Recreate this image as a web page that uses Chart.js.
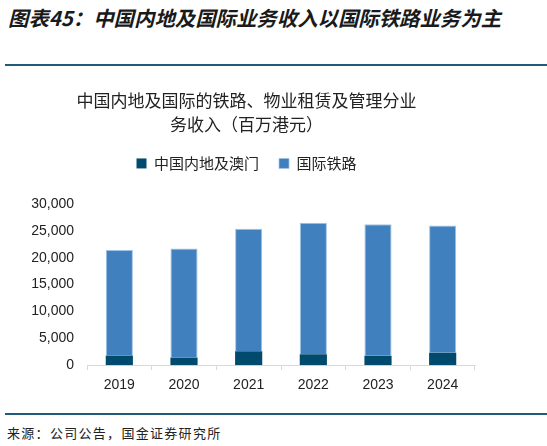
<!DOCTYPE html>
<html>
<head>
<meta charset="utf-8">
<script src="https://cdn.jsdelivr.net/npm/chart.js@4"></script>
<style>
  body { margin: 0; width: 547px; height: 446px; background: #fff; position: relative; overflow: hidden; }
  #head { position: absolute; left: 8px; top: 2px; font: italic bold 20.4px "Noto Sans CJK SC", sans-serif; color: #1a1a1a; white-space: nowrap; }
  .rule { position: absolute; left: 5px; right: 0; height: 2px; background: #1f5a7a; }
  #foot { position: absolute; left: 7px; top: 423px; font: 13px "Noto Sans CJK SC", sans-serif; color: #222; letter-spacing: 1.3px; }
  #wrap { position: absolute; left: 0; top: 80px; width: 547px; height: 321px; }
</style>
</head>
<body>
<div id="head">图表45：中国内地及国际业务收入以国际铁路业务为主</div>
<div class="rule" style="top:64px"></div>
<div id="wrap"><canvas id="chart"></canvas></div>
<div class="rule" style="top:413px"></div>
<div id="foot">来源：公司公告，国金证券研究所</div>
<script>
const years = ["2019", "2020", "2021", "2022", "2023", "2024"];
// 百万港元
const mainland = [1800, 1450, 2600, 2050, 1750, 2300];
const international = [19650, 20250, 22800, 24450, 24450, 23700];
const yTicks = [0, 5000, 10000, 15000, 20000, 25000, 30000];

const cjk = '"Noto Sans CJK SC", sans-serif';
const latin = '"Liberation Sans", Arial, sans-serif';

// extra room between legend and plot
const legendGap = {
  id: "legendGap",
  beforeInit(chart) {
    const fit = chart.legend.fit;
    chart.legend.fit = function () {
      fit.bind(chart.legend)();
      this.height += 23;
    };
  },
};

new Chart(document.getElementById("chart"), {
  type: "bar",
  data: {
    labels: years,
    datasets: [
      {
        label: "中国内地及澳门",
        data: mainland,
        backgroundColor: "#004a6e",
        borderWidth: 0,
      },
      {
        label: "国际铁路",
        data: international,
        backgroundColor: "#4080bf",
        borderColor: "#a3c3e3",
        borderWidth: { top: 1, left: 1, right: 1, bottom: 0 },
      },
    ],
  },
  plugins: [legendGap],
  options: {
    responsive: true,
    maintainAspectRatio: false,
    animation: false,
    datasets: { bar: { barPercentage: 0.42, categoryPercentage: 1 } },
    layout: { padding: { left: 18, right: 72, top: 0, bottom: 0 } },
    plugins: {
      title: {
        display: true,
        text: ["中国内地及国际的铁路、物业租赁及管理分业", "务收入（百万港元）"],
        color: "#222",
        font: { family: cjk, size: 17, weight: "normal", lineHeight: 1.41 },
        padding: { top: 9, bottom: -1 },
      },
      legend: {
        position: "top",
        labels: {
          color: "#222",
          font: { family: cjk, size: 15 },
          boxWidth: 10,
          boxHeight: 10,
          padding: 20,
        },
      },
      tooltip: { enabled: false },
    },
    scales: {
      x: {
        stacked: true,
        offset: true,
        grid: {
          offset: true,
          drawOnChartArea: false,
          color: "#d9d9d9",
          tickLength: 5,
        },
        border: { color: "#d9d9d9", width: 1 },
        ticks: { color: "#222", font: { family: latin, size: 14 }, padding: 7 },
      },
      y: {
        stacked: true,
        min: 0,
        max: 30000,
        afterBuildTicks: (scale) => {
          scale.ticks = yTicks.map((v) => ({ value: v }));
        },
        afterFit: (scale) => {
          scale.width = 69;
        },
        grid: { display: false, drawTicks: false },
        border: { display: false },
        ticks: {
          color: "#222",
          font: { family: latin, size: 14 },
          padding: 13,
          callback: (v) => v.toLocaleString("en-US"),
        },
      },
    },
  },
});
</script>
</body>
</html>
